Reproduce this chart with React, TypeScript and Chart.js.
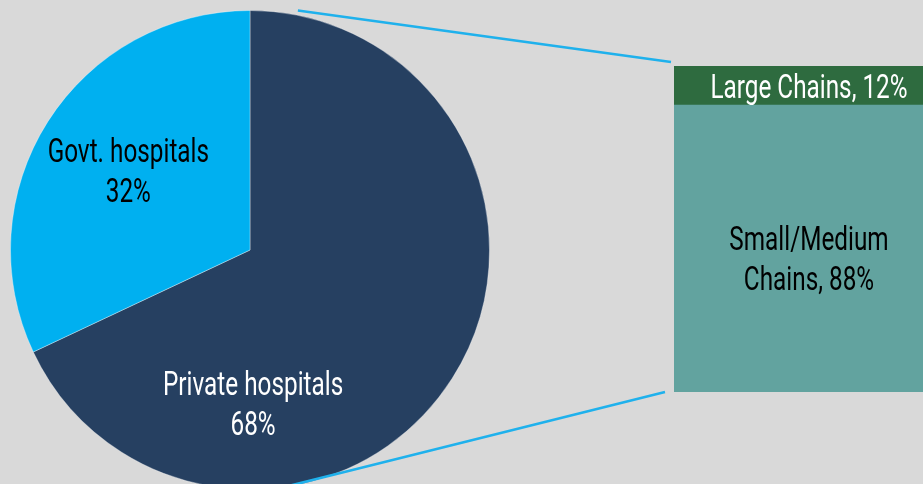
import React, { useEffect, useRef } from "react";
import { Chart, registerables } from "chart.js";

Chart.register(...registerables);

// ---- data ----
const pieLabels = ["Private hospitals", "Govt. hospitals"];
const pieValues = [68, 32];
const pieColors = ["#264061", "#00b0f0"];
const pieTextColors = ["#ffffff", "#000000"];
// label anchor, in units of the pie radius, relative to the pie centre
const pieLabelOffsets = [
  [0.013, 0.64],
  [-0.508, -0.333],
];

const barLabelLines = [["Small/Medium", "Chains"], ["Large Chains"]];
const barValues = [88, 12];
const barColors = ["#62a39f", "#2e6b3f"];
const barTextColors = ["#000000", "#ffffff"];
const barLabelDy = [9, 0];

// ---- layout ----
const W = 923;
const H = 484;
const BG = "#d9d9d9";
const PIE_CANVAS_H = 500;
const PIE_CX = 250;
const PIE_CY = 250;
const PIE_R = 240;
const BAR_LEFT = 674;
const BAR_TOP = 66;
const BAR_W = 270;
const BAR_H = 326;
const LINE_COLOR = "#1fb1ec";

const FONT_SIZE = 34;
const SCALE_X = 0.715;
const LINE_H = 40;
const CAP_H = 24;

function drawLines(
  ctx: CanvasRenderingContext2D,
  lines: string[],
  cx: number,
  cy: number,
  color: string
) {
  const n = lines.length;
  lines.forEach((t, i) => {
    const base = cy + (i - (n - 1) / 2) * LINE_H + CAP_H / 2;
    ctx.save();
    ctx.font = `${FONT_SIZE}px Roboto`;
    ctx.fillStyle = color;
    ctx.textAlign = "center";
    ctx.textBaseline = "alphabetic";
    ctx.translate(cx, base);
    ctx.scale(SCALE_X, 1);
    ctx.fillText(t, 0, 0);
    ctx.restore();
  });
}

const pieLabelPlugin = {
  id: "pieLabelPlugin",
  afterDatasetsDraw(chart: any) {
    const ctx: CanvasRenderingContext2D = chart.ctx;
    const meta = chart.getDatasetMeta(0);
    // connectors
    const first = meta.data[0];
    const cx = first.x;
    const cy = first.y;
    const r = first.outerRadius;
    const topA = (11.3 * Math.PI) / 180;
    const botA = (172 * Math.PI) / 180;
    ctx.save();
    ctx.strokeStyle = LINE_COLOR;
    ctx.lineWidth = 2.5;
    ctx.beginPath();
    ctx.moveTo(cx + r * 1.02 * Math.sin(topA), cy - r * 1.02 * Math.cos(topA));
    ctx.lineTo(BAR_LEFT - 3, BAR_TOP - 4);
    ctx.moveTo(cx + r * Math.sin(botA), cy - r * Math.cos(botA));
    ctx.lineTo(BAR_LEFT - 9, BAR_TOP + BAR_H);
    ctx.stroke();
    ctx.restore();
    // labels
    meta.data.forEach((arc: any, i: number) => {
      const [fx, fy] = pieLabelOffsets[i];
      const lx = arc.x + fx * arc.outerRadius;
      const ly = arc.y + fy * arc.outerRadius;
      drawLines(ctx, [pieLabels[i], `${pieValues[i]}%`], lx, ly, pieTextColors[i]);
    });
  },
};

const barLabelPlugin = {
  id: "barLabelPlugin",
  afterDatasetsDraw(chart: any) {
    const ctx: CanvasRenderingContext2D = chart.ctx;
    const area = chart.chartArea;
    chart.data.datasets.forEach((_ds: any, i: number) => {
      const el = chart.getDatasetMeta(i).data[0];
      const cy = (el.y + el.base) / 2 + barLabelDy[i];
      const cx = (area.left + area.right) / 2;
      const lines = barLabelLines[i].slice();
      lines[lines.length - 1] = `${lines[lines.length - 1]}, ${barValues[i]}%`;
      drawLines(ctx, lines, cx, cy, barTextColors[i]);
    });
  },
};

export default function App() {
  const pieRef = useRef<HTMLCanvasElement>(null);
  const barRef = useRef<HTMLCanvasElement>(null);

  useEffect(() => {
    const pie = new Chart(pieRef.current as HTMLCanvasElement, {
      type: "pie",
      data: {
        labels: pieLabels,
        datasets: [
          {
            data: pieValues,
            backgroundColor: pieColors,
            borderColor: "rgba(255,255,255,0.35)",
            borderWidth: 1,
          },
        ],
      },
      options: {
        responsive: false,
        animation: false,
        layout: {
          padding: {
            left: PIE_CX - PIE_R,
            top: PIE_CY - PIE_R,
            right: W - (PIE_CX + PIE_R),
            bottom: PIE_CANVAS_H - (PIE_CY + PIE_R),
          },
        },
        plugins: { legend: { display: false }, tooltip: { enabled: false } },
      },
      plugins: [pieLabelPlugin],
    } as any);

    const bar = new Chart(barRef.current as HTMLCanvasElement, {
      type: "bar",
      data: {
        labels: [""],
        datasets: barValues.map((v, i) => ({
          label: barLabelLines[i].join(" "),
          data: [v],
          backgroundColor: barColors[i],
          borderWidth: 0,
          barPercentage: 1,
          categoryPercentage: 1,
        })),
      },
      options: {
        responsive: false,
        animation: false,
        layout: { padding: 0 },
        scales: {
          x: { stacked: true, display: false },
          y: { stacked: true, display: false, min: 0, max: 100 },
        },
        plugins: { legend: { display: false }, tooltip: { enabled: false } },
      },
      plugins: [barLabelPlugin],
    } as any);

    return () => {
      pie.destroy();
      bar.destroy();
    };
  }, []);

  return (
    <div
      style={{
        position: "fixed",
        left: 0,
        top: 0,
        width: W,
        height: H,
        overflow: "hidden",
        background: BG,
      }}
    >
      <canvas
        ref={pieRef}
        width={W}
        height={PIE_CANVAS_H}
        style={{ position: "absolute", left: 0, top: 0, width: W, height: PIE_CANVAS_H }}
      />
      <canvas
        ref={barRef}
        width={BAR_W}
        height={BAR_H}
        style={{ position: "absolute", left: BAR_LEFT, top: BAR_TOP, width: BAR_W, height: BAR_H }}
      />
    </div>
  );
}
